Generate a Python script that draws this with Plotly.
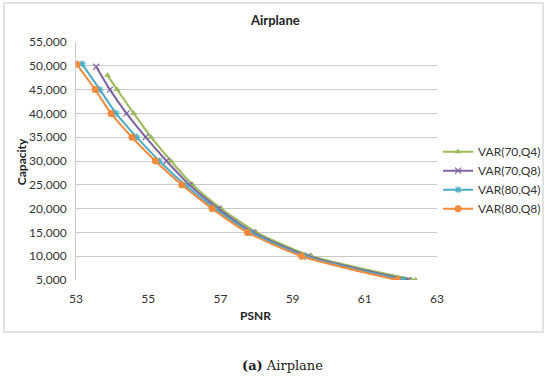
import plotly.graph_objects as go

psnr_70_q4 = [53.87, 54.14, 54.60, 55.08, 55.63, 56.23, 57.02, 58.00, 59.53, 62.41]
cap_70_q4 = [48000, 45000, 40000, 35000, 30000, 25000, 20000, 15000, 10000, 5000]

psnr_70_q8 = [53.56, 53.94, 54.40, 54.93, 55.51, 56.14, 56.94, 57.90, 59.43, 62.20]
cap_70_q8 = [49800, 45000, 40000, 35000, 30000, 25000, 20000, 15000, 10000, 5000]

psnr_80_q4 = [53.17, 53.66, 54.11, 54.68, 55.31, 56.02, 56.85, 57.84, 59.34, 62.07]
cap_80_q4 = [50400, 45000, 40000, 35000, 30000, 25000, 20000, 15000, 10000, 5000]

psnr_80_q8 = [53.02, 53.53, 53.97, 54.55, 55.20, 55.93, 56.77, 57.75, 59.25, 61.90]
cap_80_q8 = [50300, 45000, 40000, 35000, 30000, 25000, 20000, 15000, 10000, 5000]

series_names = ["VAR(70,Q4)", "VAR(70,Q8)", "VAR(80,Q4)", "VAR(80,Q8)"]
x_ticks = [53, 55, 57, 59, 61, 63]
y_ticks = [5000, 10000, 15000, 20000, 25000, 30000, 35000, 40000, 45000, 50000, 55000]

FONT = "Lato"

styles = [
    dict(color="#9BBB59", symbol="triangle-up", size=6, lw=0),
    dict(color="#7E62A3", symbol="x-thin", size=6, lw=1.2),
    dict(color="#4BACC6", symbol="asterisk", size=6, lw=1.2),
    dict(color="#F38A3C", symbol="circle", size=7, lw=0),
]
xs = [psnr_70_q4, psnr_70_q8, psnr_80_q4, psnr_80_q8]
ys = [cap_70_q4, cap_70_q8, cap_80_q4, cap_80_q8]

fig = go.Figure()
for name, x, y, st in zip(series_names, xs, ys, styles):
    marker = dict(symbol=st["symbol"], size=st["size"], color=st["color"])
    if st["lw"]:
        marker["line"] = dict(color=st["color"], width=st["lw"])
    fig.add_trace(go.Scatter(
        x=x, y=y, name=name, mode="lines+markers",
        line=dict(color=st["color"], width=2, shape="spline", smoothing=0.6),
        marker=marker,
    ))

fig.update_layout(
    width=550, height=378,
    margin=dict(l=76, r=113, t=42, b=98, autoexpand=False),
    paper_bgcolor="white", plot_bgcolor="white",
    font=dict(family=FONT, size=12, color="#333333"),
    showlegend=True,
    legend=dict(x=1.003, y=0.60, xanchor="left", yanchor="top",
                font=dict(family=FONT, size=12, color="#333333"),
                bgcolor="rgba(0,0,0,0)", tracegroupgap=0, itemwidth=30),
    xaxis=dict(range=[53, 63], tickvals=x_ticks, showgrid=False,
               showline=False, zeroline=False, ticks="", ticklabelstandoff=10,
               tickfont=dict(family=FONT, size=12, color="#333333")),
    yaxis=dict(range=[5000, 55000], tickvals=y_ticks, tickformat=",d",
               showgrid=True, gridcolor="#C8C8C8", gridwidth=1,
               showline=True, linecolor="#C8C8C8", linewidth=1,
               zeroline=False, ticks="", ticklabelstandoff=6,
               tickfont=dict(family=FONT, size=12, color="#333333")),
    shapes=[
        dict(type="rect", xref="paper", yref="paper",
             x0=-0.1994, x1=1.2936, y0=-0.2185, y1=1.1639,
             line=dict(color="#D9D9D9", width=1.5), fillcolor="rgba(0,0,0,0)",
             layer="below"),
    ],
    annotations=[
        dict(text="<b>Airplane</b>", xref="paper", yref="paper", x=0.551, y=1.092,
             xanchor="center", yanchor="middle",
             showarrow=False, font=dict(family=FONT, size=13, color="#222222")),
        dict(text="<b>Capacity</b>", xref="paper", yref="paper", x=-0.149, y=0.496,
             xanchor="center", yanchor="middle",
             showarrow=False, textangle=-90, font=dict(family=FONT, size=12, color="#222222")),
        dict(text="<b>PSNR</b>", xref="paper", yref="paper", x=0.496, y=-0.15,
             xanchor="center", yanchor="middle",
             showarrow=False, font=dict(family=FONT, size=12, color="#222222")),
        dict(text="<b>(a)</b> Airplane", xref="paper", yref="paper", x=0.573, y=-0.36,
             xanchor="center", yanchor="middle",
             showarrow=False, font=dict(family="DejaVu Serif", size=13, color="#222222")),
    ],
)

fig.write_html("out.html", config={"displayModeBar": False},
               post_script="document.body.style.margin='0px';")
